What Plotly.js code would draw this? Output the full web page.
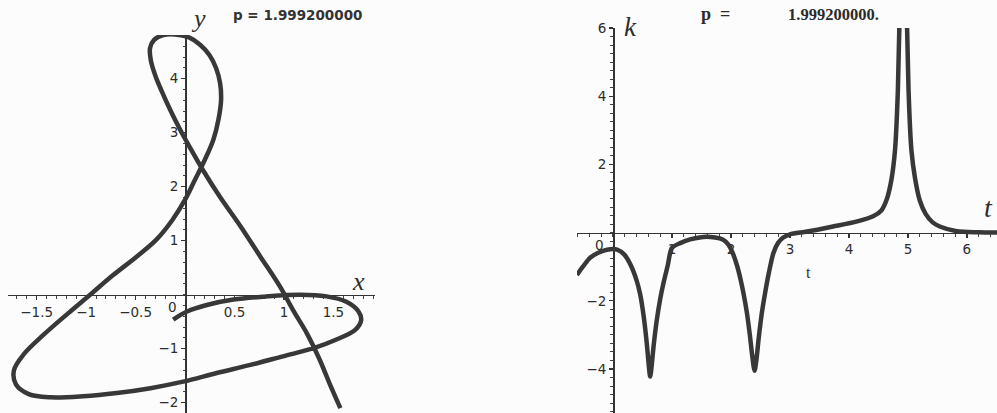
<!DOCTYPE html>
<html>
<head>
<meta charset="utf-8">
<script src="https://cdn.plot.ly/plotly-3.0.1.min.js"></script>
<style>
  html, body { margin: 0; padding: 0; background: #fcfcfc; }
  #chart { width: 997px; height: 413px; }
</style>
</head>
<body>
<div id="chart"></div>
<script>
// Plane curve (x(t), y(t)) for p = 1.9992
const curveX = [-0.12, 0.02, 0.22, 0.49, 0.83, 1.16, 1.43, 1.63, 1.75, 1.78, 1.72, 1.53, 1.30, 0.99, 0.66, 0.32,
  -0.02, -0.35, -0.69, -1.03, -1.36, -1.58, -1.71, -1.73, -1.63, -1.43, -1.18, -0.96, -0.73, -0.50, -0.29, -0.13,
  0.00, 0.10, 0.20, 0.286, 0.337, 0.364, 0.354, 0.313, 0.246, 0.152, 0.034, -0.101, -0.219, -0.313, -0.354, -0.347,
  -0.303, -0.236, -0.152, -0.051, 0.051, 0.18, 0.35, 0.56, 0.76, 0.96, 1.09, 1.23, 1.36, 1.46, 1.57];
const curveY = [-0.46, -0.31, -0.19, -0.09, -0.03, 0.00, -0.03, -0.13, -0.30, -0.47, -0.65, -0.83, -0.99, -1.14, -1.30, -1.45,
  -1.61, -1.73, -1.82, -1.88, -1.90, -1.84, -1.66, -1.40, -1.10, -0.74, -0.34, 0.00, 0.36, 0.69, 1.02, 1.38,
  1.76, 2.13, 2.50, 2.87, 3.24, 3.61, 3.92, 4.20, 4.44, 4.63, 4.77, 4.82, 4.81, 4.72, 4.57, 4.35,
  4.07, 3.77, 3.43, 3.06, 2.72, 2.31, 1.82, 1.27, 0.71, 0.15, -0.28, -0.71, -1.20, -1.64, -2.10];

// Curvature k(t) of the same curve
const tValues = [-0.61, -0.51, -0.39, -0.25, -0.10, 0.07, 0.20, 0.30, 0.40, 0.46, 0.52, 0.57, 0.61, 0.63, 0.65, 0.69,
  0.74, 0.80, 0.86, 0.93, 1.00, 1.15, 1.31, 1.59, 1.86, 1.96, 2.03, 2.10, 2.16, 2.21, 2.27, 2.32, 2.36, 2.40,
  2.43, 2.47, 2.52, 2.58, 2.64, 2.72, 2.80, 2.88, 3.00, 3.29, 3.73, 4.14, 4.41, 4.55, 4.64, 4.72, 4.78, 4.83,
  4.87, 4.92, 4.97, 5.01, 5.06, 5.12, 5.20, 5.30, 5.42, 5.54, 5.83, 6.20, 6.51];
const kValues = [-1.24, -1.00, -0.74, -0.59, -0.50, -0.50, -0.66, -0.95, -1.40, -1.80, -2.45, -3.20, -3.95, -4.22, -4.00, -3.30,
  -2.60, -1.95, -1.45, -0.95, -0.45, -0.30, -0.20, -0.12, -0.20, -0.36, -0.60, -0.95, -1.35, -1.76, -2.35, -3.00, -3.60, -4.05,
  -3.75, -3.10, -2.40, -1.76, -1.20, -0.60, -0.30, -0.15, -0.05, 0.03, 0.18, 0.33, 0.48, 0.65, 0.97, 1.55, 2.40, 4.20,
  7.50, 14.0, 7.50, 4.20, 2.40, 1.60, 0.95, 0.55, 0.30, 0.18, 0.04, 0.01, 0.00];

// Tick labels
const xTicks = [-1.5, -1, -0.5, 0.5, 1, 1.5];
const yTicks = [-2, -1, 1, 2, 3, 4];
const tTicks = [1, 2, 3, 4, 5, 6];
const kTicks = [-4, -2, 2, 4, 6];
const titleLeft = 'p = 1.999200000';
const titleRightLabel = 'p\u00a0\u00a0=';
const titleRightValue = '1.999200000.';

const W = 997, H = 413;
const ink = '#383838';
const tickFont = { family: 'DejaVu Sans', size: 13.5, color: '#2c2c2c' };

// Subplot geometry (paper fractions)
const xDom1 = [8 / W, 375 / W], yDom1 = [0, (H - 35) / H];
const xRange1 = [-1.79, 1.92], yRange1 = [-2.19, 4.81];
const xDom2 = [577 / W, 1], yDom2 = [0, (H - 28) / H];
const xRange2 = [-0.61, 6.51], yRange2 = [-5.29, 6.0];

// Paper position of the data value v along an axis with given domain/range
function at(v, dom, rng) {
  return dom[0] + (v - rng[0]) / (rng[1] - rng[0]) * (dom[1] - dom[0]);
}

function axisStyle(extra) {
  return Object.assign({
    showgrid: false, zeroline: false, showline: true,
    linecolor: '#333', linewidth: 1.6,
    ticks: 'outside', ticklen: 4, tickwidth: 1.2, tickcolor: '#333',
    tickmode: 'array', tickfont: tickFont,
    layer: 'below traces', fixedrange: true
  }, extra);
}

const minorTicks = (d) => ({ dtick: d, ticks: 'outside', ticklen: 2.5, tickcolor: '#444', tickwidth: 1 });

const traces = [
  { x: curveX, y: curveY, xaxis: 'x', yaxis: 'y', mode: 'lines', hoverinfo: 'skip',
    line: { color: ink, width: 4.5, shape: 'spline', smoothing: 1 } },
  { x: tValues, y: kValues, xaxis: 'x2', yaxis: 'y2', mode: 'lines', hoverinfo: 'skip',
    line: { color: ink, width: 4.5, shape: 'spline', smoothing: 0.8 } }
];

function px(xp, yp) { return { x: xp / W, y: 1 - yp / H, xref: 'paper', yref: 'paper' }; }

const serifItalic = (size) => ({ family: 'Liberation Serif', size: size, color: '#2e2e2e' });

const annotations = [
  Object.assign(px(198, 18), { text: '<i>y</i>', showarrow: false, font: serifItalic(26), xanchor: 'center', yanchor: 'middle' }),
  Object.assign(px(358, 281), { text: '<i>x</i>', showarrow: false, font: serifItalic(26), xanchor: 'center', yanchor: 'middle' }),
  Object.assign(px(297, 15), { text: '<b>' + titleLeft + '</b>', showarrow: false, font: { family: 'DejaVu Sans', size: 13.5, color: '#333' }, xanchor: 'center', yanchor: 'middle' }),
  Object.assign(px(715, 14), { text: '<b>' + titleRightLabel + '</b>', showarrow: false, font: { family: 'Liberation Serif', size: 18, color: '#2a2a2a' }, xanchor: 'center', yanchor: 'middle' }),
  Object.assign(px(833, 14), { text: '<b>' + titleRightValue + '</b>', showarrow: false, font: { family: 'Liberation Serif', size: 16.5, color: '#2a2a2a' }, xanchor: 'center', yanchor: 'middle' }),
  Object.assign(px(630, 27), { text: '<i>k</i>', showarrow: false, font: serifItalic(27), xanchor: 'center', yanchor: 'middle' }),
  Object.assign(px(988, 207), { text: '<i>t</i>', showarrow: false, font: serifItalic(28), xanchor: 'center', yanchor: 'middle' }),
  Object.assign(px(808, 272), { text: 't', showarrow: false, font: { family: 'Liberation Serif', size: 16, color: '#333' }, xanchor: 'center', yanchor: 'middle' }),
  // origin labels
  { x: 0, y: 0, xref: 'x', yref: 'y', text: '0', showarrow: false, font: tickFont, xanchor: 'right', yanchor: 'top', xshift: -6, yshift: -2 },
  { x: 0, y: 0, xref: 'x2', yref: 'y2', text: '0', showarrow: false, font: tickFont, xanchor: 'right', yanchor: 'top', xshift: -7, yshift: -2 }
];

const layout = {
  width: W, height: H,
  margin: { l: 0, r: 0, t: 0, b: 0, pad: 0 },
  paper_bgcolor: '#fcfcfc', plot_bgcolor: 'rgba(0,0,0,0)',
  showlegend: false,
  xaxis: axisStyle({ domain: xDom1, range: xRange1, anchor: 'free', position: at(0, yDom1, yRange1),
    tickvals: xTicks, minor: minorTicks(0.1) }),
  yaxis: axisStyle({ domain: yDom1, range: yRange1, anchor: 'free', position: at(0, xDom1, xRange1),
    tickvals: yTicks, minor: minorTicks(0.2) }),
  xaxis2: axisStyle({ domain: xDom2, range: xRange2, anchor: 'free', position: at(0, yDom2, yRange2),
    tickvals: tTicks, minor: minorTicks(0.2) }),
  yaxis2: axisStyle({ domain: yDom2, range: yRange2, anchor: 'free', position: at(0, xDom2, xRange2),
    tickvals: kTicks, minor: minorTicks(0.25) }),
  annotations: annotations
};

Plotly.newPlot('chart', traces, layout, { staticPlot: true, displayModeBar: false });
</script>
</body>
</html>
